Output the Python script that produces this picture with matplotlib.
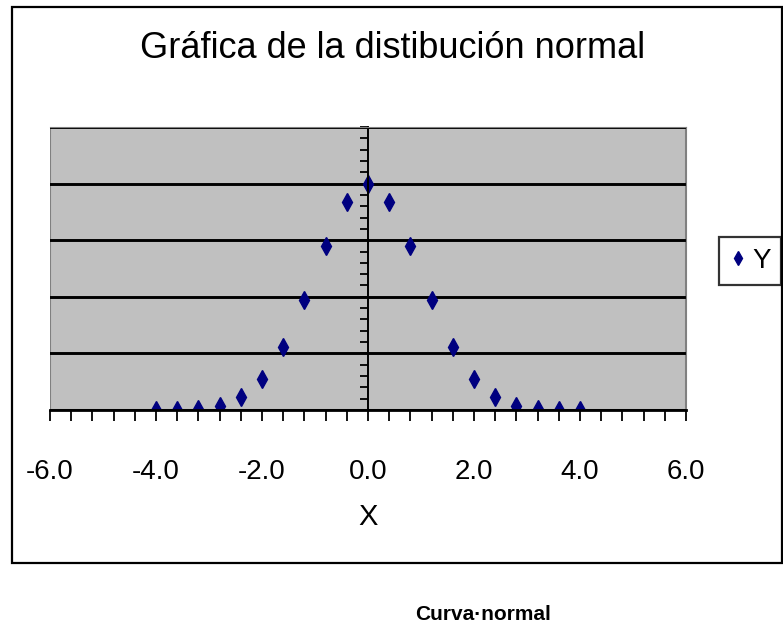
#!/usr/bin/env python3

import matplotlib
matplotlib.use('Agg')
import matplotlib.pyplot as plt
from matplotlib.patches import Rectangle
from matplotlib.ticker import MultipleLocator

# valores
x_vals = [-4.0, -3.6, -3.2, -2.8, -2.4, -2.0, -1.6, -1.2, -0.8, -0.4, 0.0,
          0.4, 0.8, 1.2, 1.6, 2.0, 2.4, 2.8, 3.2, 3.6, 4.0]
y_vals = [0.0001, 0.0006, 0.0024, 0.0079, 0.0224, 0.0540, 0.1109, 0.1942,
          0.2897, 0.3683, 0.3989, 0.3683, 0.2897, 0.1942, 0.1109, 0.0540,
          0.0224, 0.0079, 0.0024, 0.0006, 0.0001]
x_ticks = [-6.0, -4.0, -2.0, 0.0, 2.0, 4.0, 6.0]

title = 'Gráfica de la distibución normal'
series_name = 'Y'
x_label = 'X'
caption = 'Curva·normal'

W, H = 783, 628
fnt = ['Liberation Sans Narrow', 'Liberation Sans', 'DejaVu Sans']
plt.rcParams['font.family'] = fnt

fig = plt.figure(figsize=(W / 100, H / 100), dpi=100)

# marco exterior del grafico
fig.patches.append(Rectangle((12 / W, 1 - 563 / H), 770 / W, 556 / H,
                             transform=fig.transFigure, fill=False,
                             edgecolor='black', linewidth=1.6))

ax = fig.add_axes([50 / W, 1 - 410 / H, 636 / W, 283 / H])
ax.set_facecolor('#c0c0c0')
ax.plot(x_vals, y_vals, linestyle='none', marker='d', markersize=9,
        color='#000080', label=series_name)

ax.set_xlim(-6, 6)
ax.set_ylim(0, 0.5)
ax.set_xticks(x_ticks)
ax.set_xticklabels(['%.1f' % v for v in x_ticks])
ax.xaxis.set_minor_locator(MultipleLocator(0.4))
ax.yaxis.set_major_locator(MultipleLocator(0.1))
ax.yaxis.set_minor_locator(MultipleLocator(0.02))
ax.set_yticklabels([])
ax.grid(axis='y', which='major', color='black', linewidth=2.1)
ax.set_axisbelow(True)

# eje y en x = 0
ax.spines['left'].set_position(('data', 0))
ax.spines['left'].set_linewidth(1.4)
ax.spines['bottom'].set_linewidth(2.0)
for s in ['top', 'right']:
    ax.spines[s].set_color('#808080')
ax.add_patch(Rectangle((0, 0), 1, 1, transform=ax.transAxes, fill=False,
                       edgecolor='#808080', linewidth=1.5, zorder=0.5))

ax.tick_params(axis='x', which='both', direction='out', length=8,
               width=1.3, pad=27, labelsize=20)
ax.tick_params(axis='y', which='both', direction='out', length=6,
               width=1.3)

ax.set_xlabel(x_label, fontsize=21, labelpad=13)
fig.text(393 / W, 1 - 48 / H, title, ha='center', va='center', fontsize=26)
fig.text(483 / W, 1 - 615 / H, caption, ha='center', va='center',
         fontsize=15, fontweight='bold')

leg = ax.legend(loc='center', bbox_to_anchor=(750 / W, 1 - 261 / H),
                bbox_transform=fig.transFigure, fontsize=20, frameon=True,
                fancybox=False, handlelength=0.6, handletextpad=0.2,
                borderpad=0.4, borderaxespad=0, markerscale=0.8)
leg.get_frame().set_edgecolor('black')
leg.get_frame().set_linewidth(1.6)

fig.savefig('out.png', dpi=100)
